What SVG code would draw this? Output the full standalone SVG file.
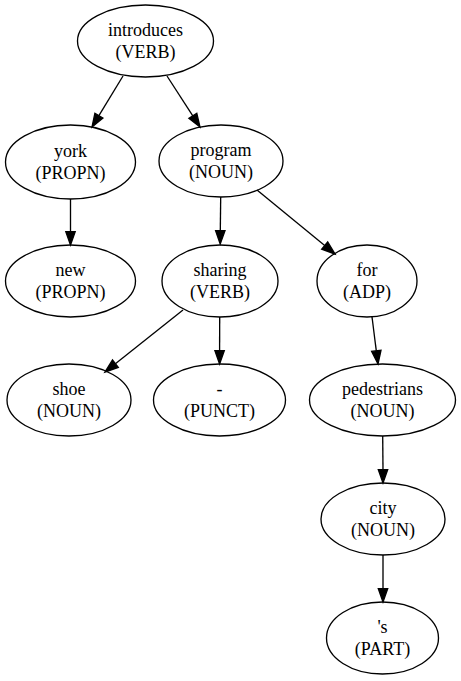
<svg xmlns="http://www.w3.org/2000/svg" width="461" height="681" viewBox="0 0 461 681" font-family="Liberation Serif, Times New Roman, serif">
<style>
.node ellipse{fill:none;stroke:#000;stroke-width:1.33}
.edges line{stroke:#000;stroke-width:1.33}
.edges polygon{fill:#000;stroke:#000;stroke-width:1.33}
</style>
<rect width="461" height="681" fill="#fff"/>
<g class="edges">
<line x1="123" y1="76" x2="98.9" y2="115.6"/><polygon points="92,127 102.9,118 94.9,113.2"/>
<line x1="167" y1="76" x2="192.8" y2="115.8"/><polygon points="200,127 188.9,118.4 196.8,113.3"/>
<line x1="70.5" y1="199" x2="70.5" y2="231.7"/><polygon points="70.5,245 65.8,231.7 75.2,231.7"/>
<line x1="220.7" y1="197" x2="220.3" y2="230.7"/><polygon points="220.2,244 215.6,230.7 225,230.7"/>
<line x1="257" y1="190" x2="324.7" y2="245.6"/><polygon points="335,254 321.7,249.2 327.7,242"/>
<line x1="183" y1="310" x2="115.4" y2="363.7"/><polygon points="105,372 118.3,367.4 112.5,360"/>
<line x1="219.7" y1="317" x2="219.6" y2="350.7"/><polygon points="219.6,364 214.9,350.7 224.3,350.7"/>
<line x1="372" y1="317" x2="376.3" y2="350.8"/><polygon points="378,364 371.6,351.4 381,350.2"/>
<line x1="382.7" y1="436" x2="383" y2="469.7"/><polygon points="383,483 378.3,469.7 387.7,469.7"/>
<line x1="383" y1="555" x2="383" y2="588.7"/><polygon points="383,602 378.3,588.7 387.7,588.7"/>
</g>
<g id="introduces" class="node"><ellipse cx="145.5" cy="41" rx="68" ry="36"/><text x="145.5" y="36" style="font-family:'Times New Roman','Liberation Serif',serif;font-size:18px" text-anchor="middle">introduces</text><text x="145.5" y="58" style="font-family:'Times New Roman','Liberation Serif',serif;font-size:18px" text-anchor="middle">(VERB)</text></g>
<g id="york" class="node"><ellipse cx="70.5" cy="162" rx="65" ry="37"/><text x="70.5" y="157" style="font-family:'Times New Roman','Liberation Serif',serif;font-size:18px" text-anchor="middle">york</text><text x="70.5" y="179" style="font-family:'Times New Roman','Liberation Serif',serif;font-size:18px" text-anchor="middle">(PROPN)</text></g>
<g id="program" class="node"><ellipse cx="221" cy="161" rx="62" ry="36"/><text x="221" y="156" style="font-family:'Times New Roman','Liberation Serif',serif;font-size:18px" text-anchor="middle">program</text><text x="221" y="178" style="font-family:'Times New Roman','Liberation Serif',serif;font-size:18px" text-anchor="middle">(NOUN)</text></g>
<g id="new" class="node"><ellipse cx="70.5" cy="281" rx="65" ry="36"/><text x="70.5" y="276" style="font-family:'Times New Roman','Liberation Serif',serif;font-size:18px" text-anchor="middle">new</text><text x="70.5" y="298" style="font-family:'Times New Roman','Liberation Serif',serif;font-size:18px" text-anchor="middle">(PROPN)</text></g>
<g id="sharing" class="node"><ellipse cx="220" cy="281" rx="58" ry="36"/><text x="220" y="276" style="font-family:'Times New Roman','Liberation Serif',serif;font-size:18px" text-anchor="middle">sharing</text><text x="220" y="298" style="font-family:'Times New Roman','Liberation Serif',serif;font-size:18px" text-anchor="middle">(VERB)</text></g>
<g id="for" class="node"><ellipse cx="367" cy="281" rx="50" ry="36"/><text x="367" y="276" style="font-family:'Times New Roman','Liberation Serif',serif;font-size:18px" text-anchor="middle">for</text><text x="367" y="298" style="font-family:'Times New Roman','Liberation Serif',serif;font-size:18px" text-anchor="middle">(ADP)</text></g>
<g id="shoe" class="node"><ellipse cx="69" cy="400" rx="62" ry="36"/><text x="69" y="395" style="font-family:'Times New Roman','Liberation Serif',serif;font-size:18px" text-anchor="middle">shoe</text><text x="69" y="417" style="font-family:'Times New Roman','Liberation Serif',serif;font-size:18px" text-anchor="middle">(NOUN)</text></g>
<g id="punct" class="node"><ellipse cx="219.5" cy="400" rx="66" ry="36"/><text x="219.5" y="395" style="font-family:'Times New Roman','Liberation Serif',serif;font-size:18px" text-anchor="middle">-</text><text x="219.5" y="417" style="font-family:'Times New Roman','Liberation Serif',serif;font-size:18px" text-anchor="middle">(PUNCT)</text></g>
<g id="pedestrians" class="node"><ellipse cx="382.5" cy="400" rx="73" ry="36"/><text x="382.5" y="395" style="font-family:'Times New Roman','Liberation Serif',serif;font-size:18px" text-anchor="middle">pedestrians</text><text x="382.5" y="417" style="font-family:'Times New Roman','Liberation Serif',serif;font-size:18px" text-anchor="middle">(NOUN)</text></g>
<g id="city" class="node"><ellipse cx="383" cy="519" rx="62" ry="36"/><text x="383" y="514" style="font-family:'Times New Roman','Liberation Serif',serif;font-size:18px" text-anchor="middle">city</text><text x="383" y="536" style="font-family:'Times New Roman','Liberation Serif',serif;font-size:18px" text-anchor="middle">(NOUN)</text></g>
<g id="s" class="node"><ellipse cx="382.5" cy="638" rx="56" ry="36"/><text x="382.5" y="633" style="font-family:'Times New Roman','Liberation Serif',serif;font-size:18px" text-anchor="middle">'s</text><text x="382.5" y="655" style="font-family:'Times New Roman','Liberation Serif',serif;font-size:18px" text-anchor="middle">(PART)</text></g>
</svg>
